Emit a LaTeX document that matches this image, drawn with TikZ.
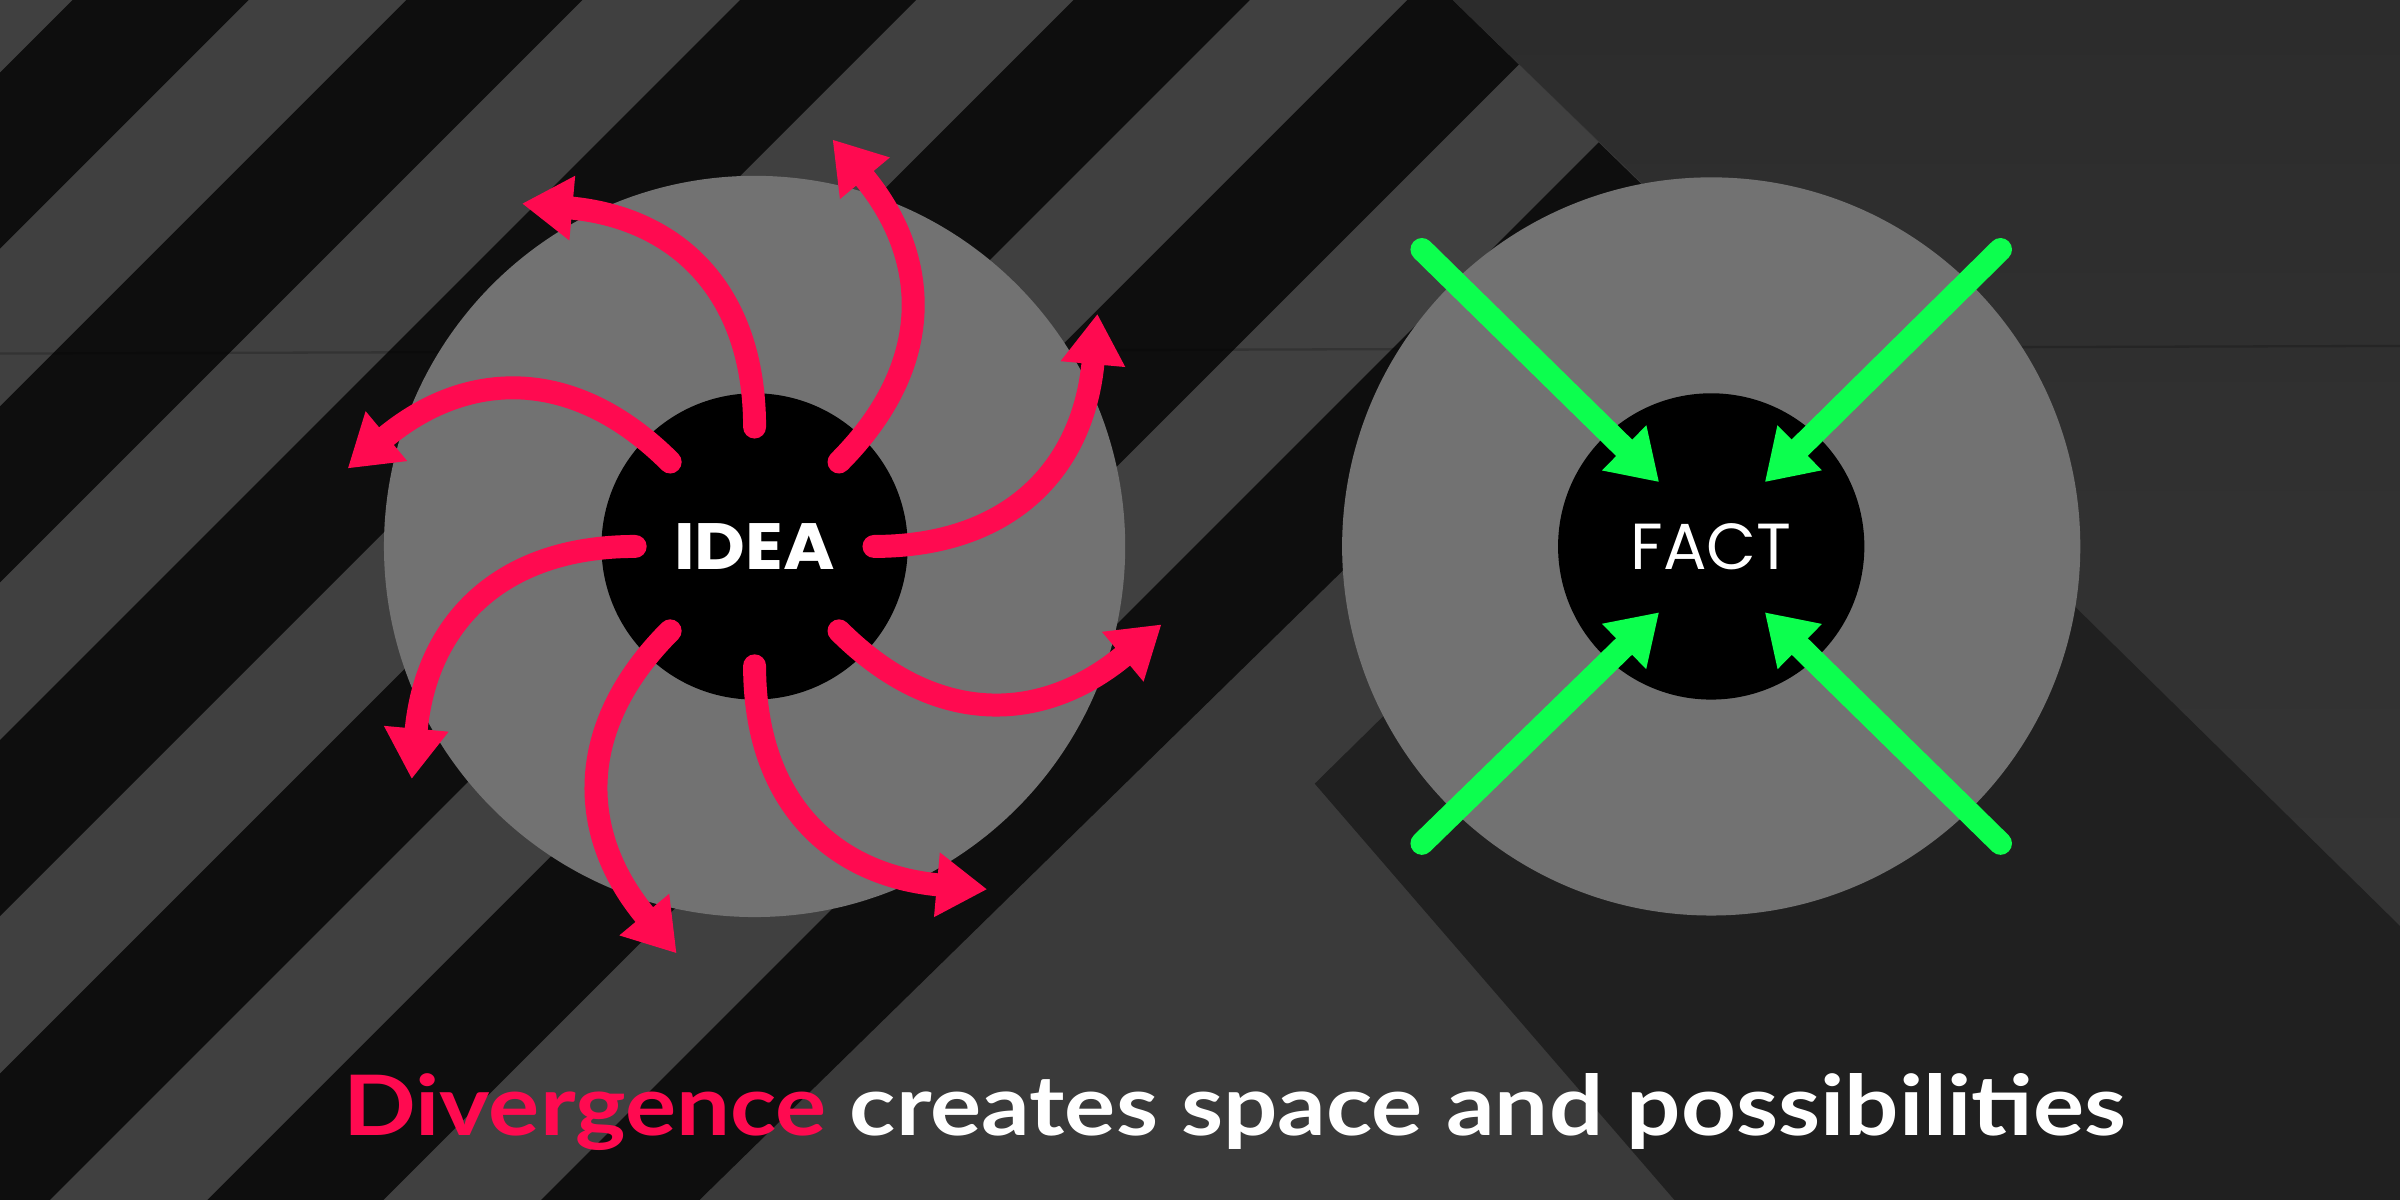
\documentclass[tikz,border=0pt]{standalone}
\usepackage{fontspec}
\usepackage{graphicx}
\usetikzlibrary{arrows.meta}
\newfontfamily\popfont{Poppins}
\newfontfamily\latofont{Lato}
\definecolor{pinkA}{HTML}{FF0A50}
\definecolor{greenA}{HTML}{0CFF4E}
\definecolor{discgray}{HTML}{727272}
\definecolor{stripeblack}{HTML}{0E0E0E}
\definecolor{stripegray}{HTML}{404040}
\definecolor{wallB}{HTML}{3A3A3A}
\definecolor{wallC}{HTML}{202020}
\definecolor{wallRtop}{HTML}{2C2C2C}
\definecolor{wallRbot}{HTML}{373737}
\begin{document}
\begin{tikzpicture}[x=0.01cm, y=-0.01cm,
  pinkarrow/.style={draw=pinkA, line width=0.15cm, line cap=round, -{Triangle[width=0.40cm,length=0.33cm]}},
  greenarrow/.style={draw=greenA, line width=0.15cm, line cap=round, -{Triangle[width=0.39cm,length=0.32cm]}},
  disc/.style={circle, fill=discgray, inner sep=0pt},
  core/.style={circle, fill=black, inner sep=0pt, minimum size=2cm, text=white}]
\useasboundingbox (0,0) rectangle (1568,784);
% wall
\shade[top color=wallRtop, bottom color=wallRbot] (0,0) rectangle (1568,784);
\fill[wallB] (0,0) -- (949,0) -- (1166,210) -- (859,512) -- (1094,784) -- (0,784) -- cycle;
\fill[wallC] (1166,210) -- (1568,605) -- (1568,784) -- (1094,784) -- (859,512) -- cycle;
% stripes
\begin{scope}
  \clip (0,0) -- (949,0) -- (1104,151) -- (457,784) -- (0,784) -- cycle;
  \fill[stripegray] (0,0) rectangle (1568,784);
  \foreach \n in {0,...,6}{
    \pgfmathsetmacro\ca{47.5+218*\n}
    \pgfmathsetmacro\cb{\ca+115}
    \fill[stripeblack] (\ca,0) -- (\cb,0) -- (\cb-900,900) -- (\ca-900,900) -- cycle;
  }
\end{scope}
% faint seam
\draw[black, opacity=0.2, line width=0.015cm] (0,231) -- (1568,226);
% discs
\node[disc, minimum size=4.84cm] (ideadisc) at (493,357) {};
\node[core] (idea) at (493,357) {\resizebox{1.05cm}{0.30cm}{\popfont\bfseries IDEA}};
\node[disc, minimum size=4.82cm] (factdisc) at (1118,357) {};
\node[core] (fact) at (1118,357) {\resizebox{1.05cm}{0.30cm}{\popfont FACT}};
% pink diverging arrows
\foreach \k in {0,...,7}{
  \begin{scope}[shift={(idea.center)}, rotate=\k*45]
    \coordinate (ps\k) at (78,0);
    \coordinate (pe\k) at (224,-152);
    \draw[pinkarrow] (ps\k) .. controls (168,0) and (215,-52) .. (pe\k);
  \end{scope}
}
% green converging arrows
\coordinate (g1s) at (929,163);  \coordinate (g1e) at (1084,315);
\coordinate (g2s) at (1307,163); \coordinate (g2e) at (1153,315);
\coordinate (g3s) at (929,551);  \coordinate (g3e) at (1084,400);
\coordinate (g4s) at (1307,551); \coordinate (g4e) at (1153,400);
\draw[greenarrow] (g1s) -- (g1e);
\draw[greenarrow] (g2s) -- (g2e);
\draw[greenarrow] (g3s) -- (g3e);
\draw[greenarrow] (g4s) -- (g4e);
% caption
\node[anchor=base west, inner sep=0pt, text=white] (caption) at (223.7,741.6)
  {\resizebox{11.64cm}{\height}{\latofont\bfseries\fontsize{15.5}{18}\selectfont\textcolor{pinkA}{Divergence} creates space and possibilities}};
\end{tikzpicture}
\end{document}
